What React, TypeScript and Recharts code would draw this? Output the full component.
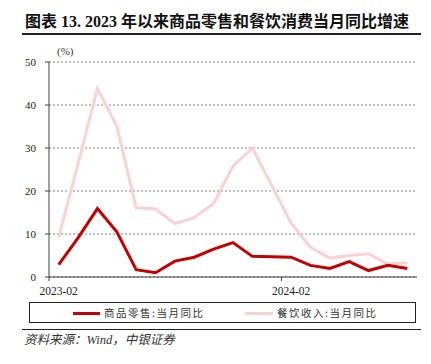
import { LineChart, Line, XAxis, YAxis, CartesianGrid } from "recharts";

const months = [
  "2023-02", "2023-03", "2023-04", "2023-05", "2023-06", "2023-07", "2023-08",
  "2023-09", "2023-10", "2023-11", "2023-12", "2024-01", "2024-02", "2024-03",
  "2024-04", "2024-05", "2024-06", "2024-07", "2024-08",
];
// 商品零售：当月同比 (%), 2024-01 has no separate reading
const retail = [2.9, 9.1, 15.9, 10.5, 1.7, 1.0, 3.7, 4.6, 6.5, 8.0, 4.8, null, 4.6, 2.7, 2.0, 3.6, 1.5, 2.7, 2.0];
// 餐饮收入：当月同比 (%)
const catering = [9.2, 26.3, 43.8, 35.1, 16.1, 15.8, 12.4, 13.8, 17.1, 25.8, 30.0, null, 12.5, 6.9, 4.4, 5.0, 5.4, 3.0, 3.3];
const yTicks = [0, 10, 20, 30, 40, 50];
const xLabels = ["2023-02", "2024-02"];

const RED = "#C00000";
const PINK = "#F8D2D4";
const SERIF = "'Liberation Serif', 'Noto Sans CJK SC', serif";
const CJK = "'Noto Sans CJK SC', sans-serif";

const data = months.map((m, i) => ({ month: m, retail: retail[i], catering: catering[i] }));

const PLOT_W = 368;
const HALF_BAND = PLOT_W / months.length / 2;

function XTick(props: any) {
  const { x, y, payload } = props;
  const label = payload.value as string;
  const show = xLabels.includes(label);
  return (
    <g>
      {show && (
        <line x1={x - HALF_BAND} x2={x - HALF_BAND} y1={y} y2={y + 4} stroke="#404040" strokeWidth={1} />
      )}
      {show && (
        <text x={x} y={y + 18} textAnchor="middle" fontSize={11.5} fontFamily={SERIF} fill="#222">
          {label}
        </text>
      )}
    </g>
  );
}

export default function App() {
  return (
    <div style={{ position: "absolute", left: 0, top: 0, width: 431, height: 364, background: "#fff" }}>
      <div
        style={{
          position: "absolute",
          left: 25,
          top: 11,
          fontSize: 16,
          lineHeight: "22px",
          fontWeight: "bold",
          fontFamily: SERIF,
          color: "#111",
          whiteSpace: "nowrap",
        }}
      >
        图表 13. 2023 年以来商品零售和餐饮消费当月同比增速
      </div>
      <div style={{ position: "absolute", left: 22, top: 33, width: 399, height: 1.5, background: "#222" }} />

      <div
        style={{ position: "absolute", left: 57, top: 45, fontSize: 11, fontFamily: SERIF, color: "#333" }}
      >
        (%)
      </div>

      <div style={{ position: "absolute", left: 0, top: 0 }}>
        <LineChart width={431} height={300} data={data} margin={{ top: 62, right: 14, left: 0, bottom: 0 }}>
          <CartesianGrid horizontal vertical={false} stroke="#808080" strokeDasharray="2 2" />
          <XAxis
            dataKey="month"
            type="category"
            interval={0}
            padding={{ left: HALF_BAND, right: HALF_BAND }}
            height={23}
            tickSize={0}
            tickMargin={0}
            tickLine={false}
            axisLine={{ stroke: "#404040", strokeWidth: 1 }}
            tick={<XTick />}
          />
          <YAxis
            width={49}
            domain={[0, 50]}
            ticks={yTicks}
            tickSize={4}
            tickMargin={9}
            tickLine={{ stroke: "#404040" }}
            axisLine={{ stroke: "#404040", strokeWidth: 1 }}
            tick={{ fontSize: 11, fontFamily: SERIF, fill: "#222" }}
          />
          <Line
            dataKey="catering"
            stroke={PINK}
            strokeWidth={3}
            dot={false}
            connectNulls
            isAnimationActive={false}
          />
          <Line
            dataKey="retail"
            stroke={RED}
            strokeWidth={3}
            dot={false}
            connectNulls
            isAnimationActive={false}
          />
        </LineChart>
      </div>

      <div
        style={{
          position: "absolute",
          left: 29,
          top: 302,
          width: 385,
          height: 19,
          border: "1px solid #222",
          fontFamily: CJK,
          fontSize: 10.5,
          letterSpacing: 1.5,
          color: "#333",
        }}
      >
        <div style={{ position: "absolute", left: 43, top: 8.5, width: 27, height: 3, background: RED }} />
        <div style={{ position: "absolute", left: 74, top: 2, lineHeight: "15px", whiteSpace: "nowrap" }}>
          商品零售:当月同比
        </div>
        <div style={{ position: "absolute", left: 215, top: 8.5, width: 28, height: 3, background: PINK }} />
        <div style={{ position: "absolute", left: 247, top: 2, lineHeight: "15px", whiteSpace: "nowrap" }}>
          餐饮收入:当月同比
        </div>
      </div>

      <div style={{ position: "absolute", left: 22, top: 329, width: 399, height: 1, background: "#222" }} />
      <div
        style={{
          position: "absolute",
          left: 24,
          top: 332,
          fontSize: 12.5,
          lineHeight: "16px",
          fontStyle: "italic",
          fontFamily: SERIF,
          color: "#333",
          whiteSpace: "nowrap",
        }}
      >
        资料来源：Wind，中银证券
      </div>
    </div>
  );
}
